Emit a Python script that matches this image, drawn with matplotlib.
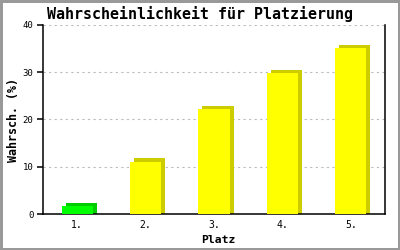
import matplotlib
matplotlib.use("Agg")
import matplotlib.pyplot as plt
from matplotlib.patches import Rectangle

# data
places = ["1.", "2.", "3.", "4.", "5."]
probs = [1.6, 11.1, 22.2, 29.9, 35.2]
face_colors = ["#00ff00", "#ffff00", "#ffff00", "#ffff00", "#ffff00"]
side_colors = ["#00cc00", "#cccc00", "#cccc00", "#cccc00", "#cccc00"]

fig = plt.figure(figsize=(4, 2.5), dpi=100)
fig.patch.set_facecolor("white")
fig.patch.set_edgecolor("#999999")
fig.patch.set_linewidth(2.5)

ax = fig.add_axes([0.1075, 0.144, 0.855, 0.756])
ax.set_xlim(0, 5)
ax.set_ylim(0, 40)

width = 0.455
dx, dy = 0.058, 0.65  # pseudo 3d depth
for i, (v, fc, sc) in enumerate(zip(probs, face_colors, side_colors)):
    x0 = i + 0.5 - width / 2
    ax.add_patch(Rectangle((x0 + dx, 0), width, v + dy, facecolor=sc,
                           edgecolor="none", zorder=2, clip_on=False))
    ax.add_patch(Rectangle((x0, 0), width, v, facecolor=fc,
                           edgecolor="none", zorder=3))

for yv in [10, 20, 30, 40]:
    ax.axhline(yv, color="#bbbbbb", lw=0.8, dashes=(2, 3), zorder=1)

for s in ["left", "bottom", "right"]:
    ax.spines[s].set_color("black")
    ax.spines[s].set_linewidth(1.1)
ax.spines["top"].set_visible(False)

mono = "DejaVu Sans Mono"
ax.set_yticks([0, 10, 20, 30, 40])
ax.set_yticklabels(["0", "10", "20", "30", "40"], family=mono, fontsize=6.5)
ax.tick_params(axis="y", direction="out", length=4, width=1.1, pad=3)
ax.set_xticks([i + 0.5 for i in range(len(places))])
ax.set_xticklabels(places, family=mono, fontsize=7)
ax.tick_params(axis="x", length=0, pad=4)

fig.text(0.5, 0.946, "Wahrscheinlichkeit für Platzierung", family=mono,
         fontsize=10.8, fontweight="bold", ha="center", va="center")
fig.text(0.545, 0.04, "Platz", family=mono, fontsize=8.2, fontweight="bold",
         ha="center", va="center")
fig.text(0.033, 0.522, "Wahrsch. (%)", family=mono, fontsize=8.4,
         fontweight="bold", ha="center", va="center", rotation=90)

fig.savefig("out.png", dpi=100, facecolor=fig.get_facecolor(),
            edgecolor=fig.get_edgecolor())
